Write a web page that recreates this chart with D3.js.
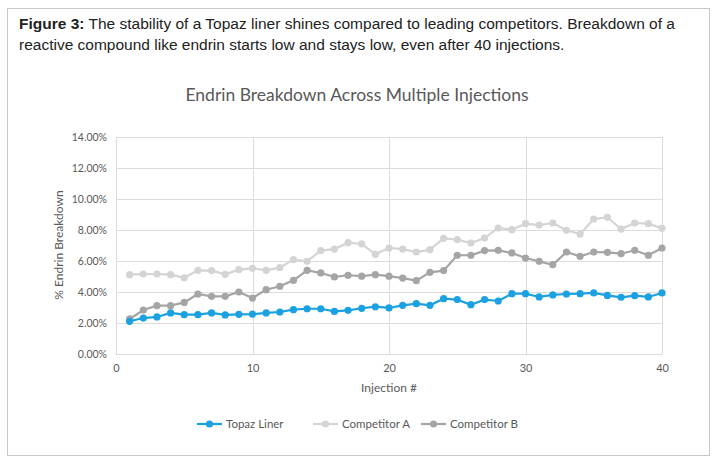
<!DOCTYPE html>
<html><head><meta charset="utf-8">
<script src="https://cdn.jsdelivr.net/npm/d3@7"></script>
<style>
body{margin:0;background:#fff;}
</style></head>
<body>
<svg id="c" width="719" height="466"></svg>
<script>
const injections = d3.range(1, 41);
const topazLiner = [2.11,2.32,2.39,2.65,2.54,2.54,2.65,2.52,2.56,2.57,2.65,2.71,2.86,2.92,2.92,2.75,2.82,2.95,3.05,2.97,3.14,3.25,3.14,3.57,3.51,3.18,3.51,3.42,3.89,3.89,3.68,3.81,3.87,3.89,3.94,3.78,3.66,3.76,3.68,3.94];
const competitorA = [5.12,5.16,5.16,5.12,4.92,5.40,5.38,5.14,5.44,5.53,5.40,5.57,6.09,5.98,6.67,6.77,7.18,7.10,6.43,6.84,6.77,6.58,6.73,7.46,7.38,7.16,7.48,8.13,8.02,8.41,8.32,8.45,7.98,7.74,8.71,8.82,8.06,8.45,8.41,8.11];
const competitorB = [2.26,2.84,3.12,3.12,3.33,3.87,3.72,3.72,4.00,3.61,4.15,4.37,4.75,5.40,5.23,4.97,5.08,5.02,5.12,5.02,4.90,4.73,5.27,5.38,6.37,6.37,6.67,6.69,6.52,6.19,5.98,5.76,6.58,6.30,6.58,6.56,6.47,6.69,6.37,6.84];
const seriesNames = ["Topaz Liner","Competitor A","Competitor B"];
const seriesColors = ["#1ba1e2","#d4d4d4","#a5a5a5"];
const xTicks = [0,10,20,30,40];
const yTicks = [0,2,4,6,8,10,12,14];

const svg = d3.select("#c");
const font = "Lato, 'Open Sans', sans-serif";
const textColor = "#595959";

// outer frame
svg.append("rect").attr("x",7.5).attr("y",8.5).attr("width",702).attr("height",447)
  .attr("fill","none").attr("stroke","#c8c8c8").attr("stroke-width",1);

// caption
const cap = svg.append("text").attr("x",19).attr("y",29).attr("font-family","Arial, 'Liberation Sans', sans-serif")
  .attr("font-size",15.5).attr("fill","#222");
cap.append("tspan").attr("font-weight","bold").text("Figure 3:");
cap.append("tspan").text(" The stability of a Topaz liner shines compared to leading competitors. Breakdown of a");
svg.append("text").attr("x",19).attr("y",50).attr("font-family","Arial, 'Liberation Sans', sans-serif")
  .attr("font-size",15.5).attr("fill","#222")
  .text("reactive compound like endrin starts low and stays low, even after 40 injections.");

// chart title
svg.append("text").attr("x",357).attr("y",101).attr("text-anchor","middle")
  .attr("font-family",font).attr("font-size",17.5).attr("fill",textColor)
  .text("Endrin Breakdown Across Multiple Injections");

const x = d3.scaleLinear().domain([0,40]).range([116,662]);
const y = d3.scaleLinear().domain([0,14]).range([354,137]);

// gridlines
const grid = svg.append("g");
grid.selectAll("line.h").data(yTicks).join("line").attr("class","h")
  .attr("x1",x(0)).attr("x2",x(40)).attr("y1",d=>Math.round(y(d))+0.5).attr("y2",d=>Math.round(y(d))+0.5)
  .attr("stroke","#dcdcdc").attr("stroke-width",1);
grid.selectAll("line.v").data(xTicks).join("line").attr("class","v")
  .attr("y1",y(0)).attr("y2",y(14)).attr("x1",d=>Math.round(x(d))+0.5).attr("x2",d=>Math.round(x(d))+0.5)
  .attr("stroke","#dcdcdc").attr("stroke-width",1);

// axes (labels only)
const yAxis = d3.axisLeft(y).tickValues(yTicks).tickFormat(d=>d.toFixed(2)+"%").tickSize(0).tickPadding(9);
const yg = svg.append("g").attr("transform",`translate(${x(0)},0)`).call(yAxis);
yg.select(".domain").remove();
yg.selectAll("text").attr("font-family",font).attr("font-size",10.5).attr("fill",textColor);

const xAxis = d3.axisBottom(x).tickValues(xTicks).tickFormat(d3.format("d")).tickSize(0).tickPadding(10);
const xg = svg.append("g").attr("transform",`translate(0,${y(0)})`).call(xAxis);
xg.select(".domain").remove();
xg.selectAll("text").attr("font-family",font).attr("font-size",11).attr("fill",textColor);

// axis titles
svg.append("text").attr("transform","translate(63,245) rotate(-90)").attr("text-anchor","middle")
  .attr("font-family",font).attr("font-size",12).attr("fill",textColor).text("% Endrin Breakdown");
svg.append("text").attr("x",389).attr("y",392).attr("text-anchor","middle")
  .attr("font-family",font).attr("font-size",12).attr("fill",textColor).text("Injection #");

// series
const data = [topazLiner, competitorA, competitorB];
const order = [1,2,0];
const line = d3.line().x((d,i)=>x(injections[i])).y(d=>y(d));
order.forEach(si=>{
  const g = svg.append("g");
  g.append("path").datum(data[si]).attr("d",line).attr("fill","none")
    .attr("stroke",seriesColors[si]).attr("stroke-width",2.2);
  g.selectAll("circle").data(data[si]).join("circle")
    .attr("cx",(d,i)=>x(injections[i])).attr("cy",d=>y(d)).attr("r",3.6)
    .attr("fill",seriesColors[si]);
});

// legend
const legendX = [197, 313, 421];
const legY = 424;
seriesNames.forEach((n,i)=>{
  const g = svg.append("g").attr("transform",`translate(${legendX[i]},${legY})`);
  g.append("line").attr("x1",0).attr("x2",25).attr("y1",0).attr("y2",0)
    .attr("stroke",seriesColors[i]).attr("stroke-width",2.2);
  g.append("circle").attr("cx",12.5).attr("cy",0).attr("r",3.6).attr("fill",seriesColors[i]);
  g.append("text").attr("x",29).attr("y",4).attr("font-family",font).attr("font-size",11.5)
    .attr("fill",textColor).text(n);
});
</script>
</body></html>
